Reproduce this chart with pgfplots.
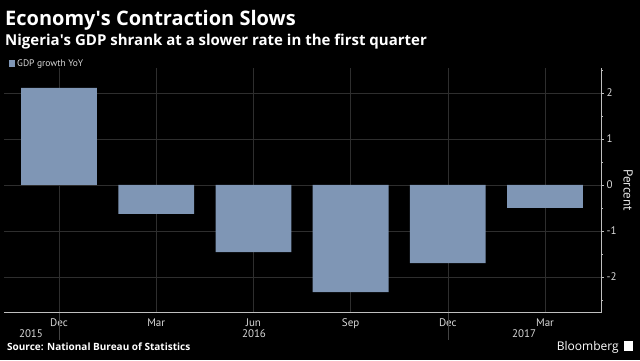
\documentclass[border=0pt]{standalone}
\usepackage{pgfplots}
\pgfplotsset{compat=1.18}
\usepackage{fontspec}
\setmainfont{Open Sans}
\newfontfamily\tickfont{PT Sans}
\definecolor{barc}{HTML}{7F96B5}
\definecolor{gridc}{HTML}{2E2E2E}
\definecolor{sepc}{HTML}{444444}
\definecolor{axc}{HTML}{BFBFBF}
\begin{document}
\begin{tikzpicture}[x=1pt,y=1pt]
\fill[black] (0,0) rectangle (640,360);
\node[anchor=base west,inner sep=0,text=white,font=\fontsize{20}{21}\selectfont\bfseries] at (5,335) {Economy\textquotesingle s Contraction Slows};
\node[anchor=base west,inner sep=0,text=white,font=\fontsize{15}{16}\selectfont\bfseries] at (5,315) {Nigeria\textquotesingle s GDP shrank at a slower rate in the first quarter};
\fill[barc] (9,293) rectangle (15,300);
\node[anchor=base west,inner sep=0,text=white!85!black,font=\tickfont\fontsize{9.5}{10}\selectfont] at (17,293.5) {GDP growth YoY};
\node[anchor=base west,inner sep=0,text=white,font=\fontsize{10}{11}\selectfont\bfseries] at (7,10) {Source: National Bureau of Statistics};
\node[anchor=base east,inner sep=0,text=white,font=\fontsize{12}{13}\selectfont] at (619,10) {Bloomberg};
\fill[white] (624,9) rectangle (633,19);
\begin{axis}[
  name=ax,
  at={(4pt,47.5pt)}, anchor=south west,
  scale only axis, width=597pt, height=244.5pt,
  xmin=-0.566, xmax=5.576, ymin=-2.77, ymax=2.54,
  axis line style={draw=none},
  xtick={0,1,2,3,4,5}, xticklabels={Dec,Mar,Jun,Sep,Dec,Mar},
  ytick={-2,-1,0,1,2}, minor ytick={-2.5,-1.5,-0.5,0.5,1.5,2.5},
  ytick pos=right, yticklabel pos=right,
  xtick pos=bottom,
  xmajorgrids, ymajorgrids,
  grid style={gridc, line width=0.6pt},
  /pgf/number format/assume math mode=true,
  ticklabel style={font=\tickfont\fontsize{11}{12}\selectfont, text=white!85!black},
  xticklabel style={overlay},
  xtick style={draw=none},
  ylabel={Percent}, ylabel near ticks,
  ylabel style={font=\tickfont\fontsize{13}{14}\selectfont, text=white!90!black, rotate=180},
  tick align=outside,
  major tick length=3pt, minor tick length=2pt,
  ytick style={axc, line width=0.6pt},
  yticklabel style={xshift=-1pt},
  clip=false,
]
\addplot[ybar, bar width=0.78, fill=barc, draw=none] coordinates {
  (0,2.11) (1,-0.63) (2,-1.46) (3,-2.33) (4,-1.70) (5,-0.50)};
\draw[axc, line width=0.8pt] (rel axis cs:0,0) -- (rel axis cs:1,0) -- (rel axis cs:1,1);
\coordinate (s1) at (axis cs:0,-2.77);
\coordinate (s2) at (axis cs:4,-2.77);
\end{axis}
\draw[sepc, line width=0.6pt] (s1) -- ++(0,-27);
\draw[sepc, line width=0.6pt] (s2) -- ++(0,-27);
\node[anchor=base,inner sep=0,text=white!85!black,font=\tickfont\fontsize{11}{12}\selectfont] at (31,23) {2015};
\node[anchor=base,inner sep=0,text=white!85!black,font=\tickfont\fontsize{11}{12}\selectfont] at (254,23) {2016};
\node[anchor=base,inner sep=0,text=white!85!black,font=\tickfont\fontsize{11}{12}\selectfont] at (524,23) {2017};
\pgfresetboundingbox
\useasboundingbox (0,0) rectangle (640,360);
\end{tikzpicture}
\end{document}
